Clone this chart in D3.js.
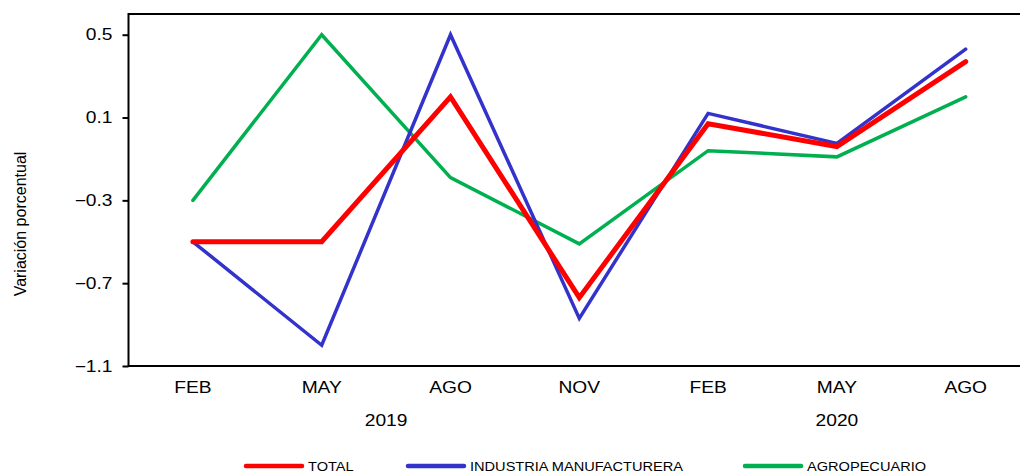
<!DOCTYPE html>
<html>
<head>
<meta charset="utf-8">
<script src="https://cdn.jsdelivr.net/npm/d3@7/dist/d3.min.js"></script>
<style>
body { margin: 0; background: #fff; }
text { font-family: "Liberation Sans", Arial, sans-serif; fill: #000; }
</style>
</head>
<body>
<svg width="1020" height="475"></svg>
<script>
const months = ["FEB", "MAY", "AGO", "NOV", "FEB", "MAY", "AGO"];
const years = [{label: "2019", from: 0, to: 3}, {label: "2020", from: 4, to: 6}];
const total = [-0.5, -0.5, 0.2, -0.77, 0.07, -0.04, 0.37];
const industria = [-0.5, -1.0, 0.5, -0.87, 0.12, -0.025, 0.43];
const agro = [-0.3, 0.5, -0.19, -0.51, -0.06, -0.09, 0.2];
const yTicks = [0.5, 0.1, -0.3, -0.7, -1.1];

const series = [
    {name: "TOTAL", values: total, color: "#ff0000", width: 5},
    {name: "INDUSTRIA MANUFACTURERA", values: industria, color: "#3333cc", width: 3.5},
    {name: "AGROPECUARIO", values: agro, color: "#00b050", width: 3.5}
];

const svg = d3.select("svg");
const plotLeft = 128.5, plotTop = 14, plotBottom = 366;
const bandW = 128.8;
const stretch = 1.2; // the original text is drawn a little wide

const x = d3.scaleBand()
    .domain(d3.range(months.length))
    .range([plotLeft, plotLeft + bandW * months.length]);
const y = d3.scaleLinear().domain([-1.1, 0.6]).range([plotBottom, plotTop]);

// frame
svg.append("rect")
    .attr("x", plotLeft).attr("y", plotTop)
    .attr("width", bandW * months.length).attr("height", plotBottom - plotTop)
    .attr("fill", "none").attr("stroke", "#000").attr("stroke-width", 2);

const yAxis = svg.append("g")
    .attr("transform", `translate(${plotLeft},0)`)
    .call(d3.axisLeft(y).tickValues(yTicks).tickFormat(d3.format(".1f")).tickSize(6).tickSizeOuter(0));
yAxis.select(".domain").remove();
yAxis.selectAll(".tick line").attr("stroke", "#000").attr("stroke-width", 2);
yAxis.selectAll(".tick text")
    .attr("x", -16 / stretch)
    .attr("transform", `scale(${stretch},1)`)
    .style("font-size", "16px");

svg.append("text")
    .attr("transform", "translate(26,224) rotate(-90)")
    .attr("text-anchor", "middle")
    .style("font-size", "16px")
    .text("Variación porcentual");

const cx = i => x(i) + x.bandwidth() / 2;

svg.append("g").selectAll("text")
    .data(months)
    .enter().append("text")
    .attr("transform", (d, i) => `translate(${cx(i)},393) scale(${stretch},1)`)
    .attr("text-anchor", "middle")
    .style("font-size", "16px")
    .text(d => d);

svg.append("g").selectAll("text")
    .data(years)
    .enter().append("text")
    .attr("transform", d => `translate(${(cx(d.from) + cx(d.to)) / 2},426) scale(${stretch},1)`)
    .attr("text-anchor", "middle")
    .style("font-size", "16px")
    .text(d => d.label);

const line = d3.line().x((d, i) => cx(i)).y(d => y(d));

// draw agro first, then industria, total on top
[series[2], series[1], series[0]].forEach(s => {
    svg.append("path")
        .datum(s.values)
        .attr("d", line)
        .attr("fill", "none")
        .attr("stroke", s.color)
        .attr("stroke-width", s.width)
        .attr("stroke-linecap", "round")
        .attr("stroke-linejoin", "miter");
});

const legendX = [246, 408, 745];
const legend = svg.append("g").selectAll("g")
    .data(series)
    .enter().append("g")
    .attr("transform", (d, i) => `translate(${legendX[i]},466)`);
legend.append("line")
    .attr("x1", 0).attr("x2", 56)
    .attr("stroke", d => d.color)
    .attr("stroke-width", 4.5)
    .attr("stroke-linecap", "round");
legend.append("text")
    .attr("transform", "translate(62,4.5) scale(1.08,1)")
    .style("font-size", "13.5px")
    .text(d => d.name);
</script>
</body>
</html>
